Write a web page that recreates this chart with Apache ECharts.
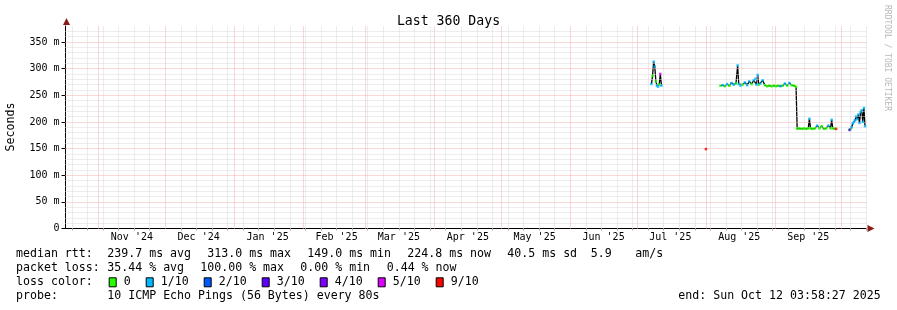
<!DOCTYPE html>
<html><head><meta charset="utf-8">
<script src="https://cdn.jsdelivr.net/npm/echarts@6/dist/echarts.min.js"></script>
<style>html,body{margin:0;padding:0;background:#fff}#c{width:897px;height:310px}</style>
</head><body><div id="c"></div>
<script>
// ---- data ----
const chartTitle = 'Last 360 Days';
const rangeStart = '2024-10-17T03:58:27';
const rangeEnd = '2025-10-12T03:58:27';
const yTickValues = [0, 50, 100, 150, 200, 250, 300, 350];
const yMax = 380;
const monthStarts = ['2024-11-01','2024-12-01','2025-01-01','2025-02-01','2025-03-01','2025-04-01','2025-05-01','2025-06-01','2025-07-01','2025-08-01','2025-09-01','2025-10-01'];
const monthLabelDates = ['2024-11-16','2024-12-16','2025-01-16','2025-02-16','2025-03-16','2025-04-16','2025-05-16','2025-06-16','2025-07-16','2025-08-16','2025-09-16'];
const monthLabels = ["Nov '24","Dec '24","Jan '25","Feb '25","Mar '25","Apr '25","May '25","Jun '25","Jul '25","Aug '25","Sep '25"];
const sampleTimes = [
 '2025-07-07T12:00','2025-07-08T00:00','2025-07-08T12:00','2025-07-09T00:00','2025-07-09T12:00','2025-07-10T00:00','2025-07-10T12:00','2025-07-11T00:00','2025-07-11T12:00','2025-07-12T00:00',
 '2025-07-20T00:00',
 '2025-08-01T00:00',
 '2025-08-04T00:00',
 '2025-08-07T12:00','2025-08-08T12:00','2025-08-09T12:00','2025-08-10T12:00','2025-08-11T12:00','2025-08-12T12:00','2025-08-13T12:00','2025-08-14T12:00','2025-08-15T06:00','2025-08-15T18:00',
 '2025-08-16T12:00','2025-08-17T12:00','2025-08-18T12:00','2025-08-19T12:00','2025-08-20T12:00','2025-08-21T12:00','2025-08-22T12:00','2025-08-23T06:00','2025-08-23T18:00','2025-08-24T06:00','2025-08-24T18:00',
 '2025-08-25T12:00','2025-08-26T12:00','2025-08-27T12:00','2025-08-28T12:00','2025-08-29T12:00','2025-08-30T12:00','2025-08-31T12:00','2025-09-01T12:00','2025-09-02T12:00','2025-09-03T12:00',
 '2025-09-04T12:00','2025-09-05T12:00','2025-09-06T12:00','2025-09-07T12:00','2025-09-08T12:00','2025-09-09T12:00','2025-09-10T12:00',
 '2025-09-11T00:00','2025-09-12T00:00','2025-09-13T00:00','2025-09-14T00:00','2025-09-15T00:00','2025-09-16T00:00','2025-09-16T12:00','2025-09-17T00:00','2025-09-18T00:00','2025-09-19T00:00','2025-09-20T00:00',
 '2025-09-21T00:00','2025-09-22T00:00','2025-09-23T00:00','2025-09-24T00:00','2025-09-25T00:00','2025-09-26T00:00','2025-09-26T12:00','2025-09-27T00:00','2025-09-28T00:00','2025-09-28T12:00',
 '2025-10-02T00:00',
 '2025-10-04T12:00','2025-10-05T00:00','2025-10-05T12:00','2025-10-06T00:00','2025-10-06T12:00','2025-10-07T00:00','2025-10-07T12:00','2025-10-08T00:00','2025-10-08T12:00','2025-10-09T00:00',
 '2025-10-09T12:00','2025-10-10T00:00','2025-10-10T12:00','2025-10-11T00:00','2025-10-11T12:00'
];
const medianMs = [
 271,286,313,304,276,268,266,270,290,268,
 null,
 149,
 null,
 268,269,267,271,268,273,270,272,306,271,
 268,270,274,269,276,271,278,281,270,288,270,
 272,278,269,267,268,267,268,267,268,267,
 268,272,268,273,269,268,266,
 187,188,187,188,187,188,206,188,187,188,193,
 188,192,187,188,193,188,204,188,187,187,
 null,
 185,186,190,197,200,203,210,205,214,198,
 218,222,200,226,192
];
const lossTenths = [
 1,0,1,1,0,1,1,0,5,1,
 null,
 9,
 null,
 0,1,0,1,0,1,1,0,1,1,
 1,0,1,1,1,0,1,1,1,1,0,
 1,1,0,0,0,0,0,0,0,1,
 0,1,0,1,0,0,0,
 0,0,0,0,0,0,1,0,0,0,1,
 0,0,0,0,1,0,1,0,0,9,
 null,
 3,0,1,1,1,1,1,1,1,1,
 1,1,1,1,1
];
const lossLevels = [0, 1, 2, 3, 4, 5, 9];
const lossLabels = ['0', '1/10', '2/10', '3/10', '4/10', '5/10', '9/10'];
const lossColors = ['#26ff00', '#00b8ff', '#0059ff', '#5e00ff', '#7e00ff', '#dd00ff', '#ff0000'];
const statRows = [
  ['median rtt:', '239.7 ms avg', '313.0 ms max', '149.0 ms min', '224.8 ms now', '40.5 ms sd', '5.9', 'am/s'],
  ['packet loss:', '35.44 % avg', '100.00 % max', '0.00 % min', '0.44 % now']
];
const probeText = ['probe:', '10 ICMP Echo Pings (56 Bytes) every 80s'];
const endText = 'end: Sun Oct 12 03:58:27 2025';
const watermark = 'RRDTOOL / TOBI OETIKER';

// ---- helpers ----
function ms(s) {
  const m = s.match(/(\d+)-(\d+)-(\d+)(?:T(\d+):(\d+)(?::(\d+))?)?/);
  return Date.UTC(+m[1], +m[2] - 1, +m[3], +(m[4] || 0), +(m[5] || 0), +(m[6] || 0));
}
const t0 = ms(rangeStart), t1 = ms(rangeEnd);
const monthStartMs = monthStarts.map(ms);
const labelMs = monthLabelDates.map(ms);
const weekMs = [];
for (let d = Date.UTC(2024, 9, 20); d < t1; d += 7 * 86400000) {
  if (new Date(d).getUTCDate() !== 1) weekMs.push(d);
}
const minorY = [];
for (let v = 10; v < yMax; v += 10) if (v % 50 !== 0) minorY.push(v);
const majorY = [50, 100, 150, 200, 250, 300, 350];

const FONT = 'DejaVu Sans Mono';
const GRIDMINOR = '#dadada';
const GRIDMAJOR = '#f5b0b0';

const lineData = sampleTimes.map((s, i) => [ms(s), medianMs[i]]);
const lossSeries = lossLevels.map((lv, k) => ({
  type: 'scatter', name: lossLabels[k], z: 5,
  symbol: 'rect', symbolSize: 2.5,
  itemStyle: { color: lossColors[k] },
  data: sampleTimes.map((s, i) => lossTenths[i] === lv && medianMs[i] != null ? [ms(s), medianMs[i]] : null).filter(Boolean)
}));

const G = { left: 65.5, top: 26, width: 801, height: 202.5 };
const axisY = G.top + G.height;
const axisX0 = G.left + 1;

const graphics = [];
graphics.push({ type: 'polygon', shape: { points: [[axisX0 - 3.5, G.top - 1], [axisX0 + 3.5, G.top - 1], [axisX0, G.top - 8]] }, style: { fill: '#8b1a1a' } });
graphics.push({ type: 'polygon', shape: { points: [[G.left + G.width + 1, axisY - 3.5], [G.left + G.width + 1, axisY + 3.5], [G.left + G.width + 8, axisY]] }, style: { fill: '#8b1a1a' } });
graphics.push({ type: 'text', x: 11, y: 127, rotation: Math.PI / 2, style: { text: 'Seconds', font: '11.6px ' + FONT, fill: '#000', align: 'center', verticalAlign: 'middle' } });
graphics.push({ type: 'text', x: 887, y: 5, rotation: -Math.PI / 2, style: { text: watermark, font: '8px ' + FONT, fill: '#b8b8b8', align: 'left', verticalAlign: 'middle' } });
const row1X = [16, 107.3, 207.3, 307.3, 407.3, 507.3, 590.7, 635.3];
const row2X = [16, 107.3, 200.3, 300.3, 386.7];
const rowY = [254.3, 268.3, 282.3, 296.3];
function txt(s, x, y) { return { type: 'text', x: x, y: y, style: { text: s, font: '11.6px ' + FONT, fill: '#000', align: 'left', verticalAlign: 'middle' } }; }
statRows[0].forEach((s, i) => graphics.push(txt(s, row1X[i], rowY[0])));
statRows[1].forEach((s, i) => graphics.push(txt(s, row2X[i], rowY[1])));
graphics.push(txt('loss color:', 16, rowY[2]));
const boxX = [108.7, 145.7, 203.7, 261.7, 319.7, 377.7, 435.7];
lossLabels.forEach((l, k) => {
  graphics.push({ type: 'rect', shape: { x: boxX[k] + 0.5, y: rowY[2] - 4.5, width: 7, height: 9 }, style: { fill: lossColors[k], stroke: '#000', lineWidth: 1 } });
  graphics.push(txt(l, boxX[k] + 15, rowY[2]));
});
graphics.push(txt(probeText[0], 16, rowY[3]));
graphics.push(txt(probeText[1], 107.3, rowY[3]));
graphics.push(txt(endText, 678.3, rowY[3]));

const chart = echarts.init(document.getElementById('c'), null, { renderer: 'canvas' });
chart.setOption({
  animation: false,
  backgroundColor: '#ffffff',
  title: { text: chartTitle, left: 'center', top: 10, textStyle: { fontFamily: FONT, fontSize: 13.2, fontWeight: 'normal', color: '#000' } },
  grid: G,
  xAxis: {
    type: 'value', min: t0, max: t1, scale: true,
    axisLine: { show: true, lineStyle: { color: '#000', width: 1 } },
    axisTick: { show: true, customValues: weekMs, length: 2, lineStyle: { color: '#aaa' } },
    axisLabel: { customValues: labelMs, hideOverlap: false, margin: 4, fontFamily: FONT, fontSize: 10, color: '#000',
      formatter: function (v) { const i = labelMs.indexOf(v); return i >= 0 ? monthLabels[i] : ''; } },
    splitLine: { show: false }
  },
  yAxis: {
    type: 'value', min: 0, max: yMax,
    axisLine: { show: true, lineStyle: { color: '#000', width: 1 } },
    axisTick: { show: true, customValues: yTickValues, length: 4, lineStyle: { color: '#000' } },
    axisLabel: { customValues: yTickValues, margin: 6, fontFamily: FONT, fontSize: 10, color: '#000',
      formatter: function (v) { return v === 0 ? '0' : v + ' m'; } },
    splitLine: { show: false }
  },
  graphic: graphics,
  series: [
    { type: 'line', name: 'gridlines', data: [], z: 1, silent: true,
      markLine: { silent: true, symbol: 'none', label: { show: false }, animation: false,
        data: [].concat(
          minorY.map(v => ({ yAxis: v, lineStyle: { color: GRIDMINOR, type: [1, 1], width: 1 } })),
          weekMs.map(v => ({ xAxis: v, lineStyle: { color: GRIDMINOR, type: [1, 1], width: 1 } })),
          majorY.map(v => ({ yAxis: v, lineStyle: { color: GRIDMAJOR, type: [1, 1], width: 1 } })),
          monthStartMs.map(v => ({ xAxis: v, lineStyle: { color: GRIDMAJOR, type: [1, 1], width: 1 } }))
        ) } },
    { type: 'line', name: 'median', data: lineData, z: 3, showSymbol: false, connectNulls: false,
      lineStyle: { color: '#000', width: 1.3 } }
  ].concat(lossSeries)
});
</script></body></html>
